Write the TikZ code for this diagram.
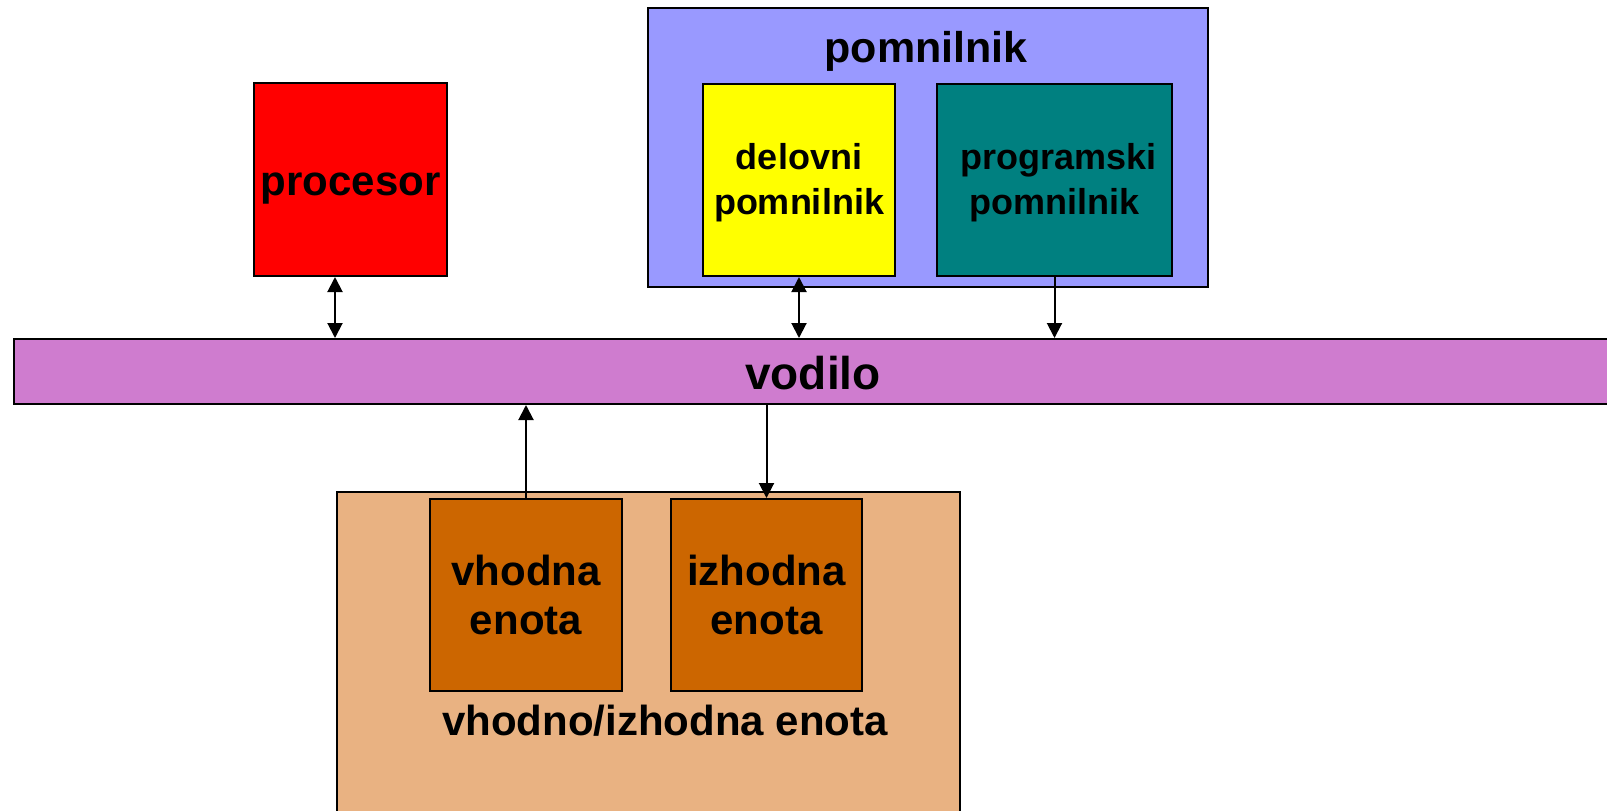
\documentclass[tikz,border=0pt]{standalone}
\usepackage{fontspec}
\setmainfont{Liberation Sans}
\usetikzlibrary{arrows.meta}
\definecolor{procred}{RGB}{255,0,0}
\definecolor{memblue}{RGB}{153,153,255}
\definecolor{workyel}{RGB}{255,255,0}
\definecolor{progteal}{RGB}{0,128,128}
\definecolor{buspink}{RGB}{207,124,207}
\definecolor{iotan}{RGB}{233,178,130}
\definecolor{ioorange}{RGB}{204,102,0}
\newcommand\mytwolines[3]{\vtop{\baselineskip=#1\relax\halign{\hfil##\hfil\cr#2\cr#3\cr}}}
\newcommand\myatbase[2]{\raisebox{#1}[0pt][0pt]{#2}}
\tikzset{
  box/.style={draw=black, line width=1pt, inner sep=0pt,
    font=\bfseries\fontsize{21pt}{22pt}\selectfont},
  conn/.style={line width=1pt, >={Triangle[length=7.5pt,width=7.5pt]}},
  lbl/.style={inner sep=0pt, anchor=base, font=\bfseries\fontsize{21pt}{22pt}\selectfont}
}
\begin{document}
\begin{tikzpicture}[x=0.5pt,y=-0.5pt]
\clip (0,0) rectangle (1607,810);
\fill[white] (0,0) rectangle (1607,810);
% memory group
\node[box, fill=memblue, minimum width=280pt, minimum height=139.5pt] (mem) at (928,147.5) {};
\node[lbl, font=\bfseries\fontsize{21.5pt}{22pt}\selectfont] (memlbl) at (926,62) {pomnilnik};
\node[box, fill=workyel, minimum width=96pt, minimum height=96pt,
  font=\bfseries\fontsize{18pt}{22pt}\selectfont] (work) at (799,180)
  {\myatbase{5.5pt}{\mytwolines{22.5pt}{delovni}{pomnilnik}}};
\node[box, fill=progteal, minimum width=117.5pt, minimum height=96pt,
  font=\bfseries\fontsize{18pt}{22pt}\selectfont] (prog) at (1054.5,180)
  {\myatbase{5.5pt}{\mytwolines{22.5pt}{\hspace{4pt}programski}{pomnilnik}}};
% processor
\node[box, fill=procred, minimum width=96.5pt, minimum height=96.5pt] (proc) at (350.5,179.5)
  {\myatbase{-7.75pt}{procesor}};
% bus
\node[box, fill=buspink, minimum width=799pt, minimum height=32.5pt] (bus) at (813,371.5) {};
\node[lbl, font=\bfseries\fontsize{23pt}{24pt}\selectfont] (buslbl) at (813,389) {vodilo};
% I/O group
\node[box, fill=iotan, minimum width=311.5pt, minimum height=169pt] (io) at (648.5,661) {};
\node[box, fill=ioorange, minimum width=96pt, minimum height=96pt] (in) at (526,595)
  {\myatbase{5pt}{\mytwolines{24.5pt}{vhodna}{enota}}};
\node[box, fill=ioorange, minimum width=95.5pt, minimum height=96pt] (out) at (766.5,595)
  {\myatbase{5pt}{\mytwolines{24.5pt}{izhodna}{enota}}};
\node[lbl] (iolbl) at (665,735) {vhodno/izhodna enota};
% connectors
\coordinate (pa) at (335,0);
\draw[conn, <->] (proc.south -| pa) -- (bus.north -| pa);
\draw[conn, <->] (work.south) -- (bus.north -| work.south);
\draw[conn, ->] (prog.south) -- (bus.north -| prog.south);
\draw[conn, ->] (in.north) -- (bus.south -| in.north);
\draw[conn, ->] (bus.south -| out.north) -- (out.north);
\end{tikzpicture}
\end{document}
